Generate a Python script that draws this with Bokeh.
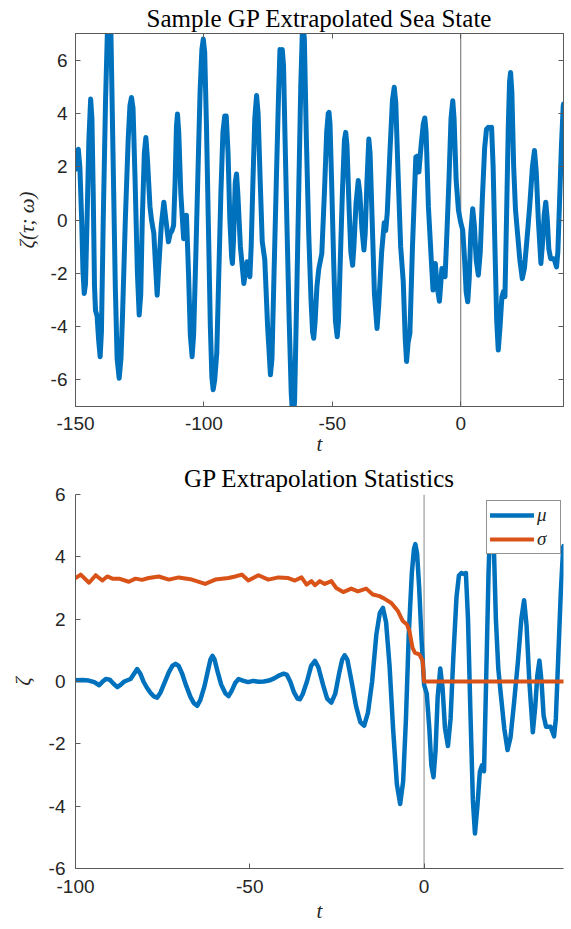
from bokeh.plotting import figure
from bokeh.layouts import column
from bokeh.models import (Range1d, FixedTicker, LinearAxis, Span, Legend, LegendItem,
                          PrintfTickFormatter)
from bokeh.embed import file_html
from bokeh.resources import INLINE

# ---------------- data ----------------
# sample path, unobserved part (t < 0)
sample_past_t = [-150.0, -149.4, -148.9, -148.3, -147.6, -147.1, -146.6, -146.1, -145.5, -144.8,
                 -144.1, -143.6, -143.1, -142.6, -142.2, -141.6, -141.0, -140.4, -139.9, -139.2,
                 -138.3, -137.6, -136.9, -136.2, -135.4, -134.5, -133.8, -133.0, -132.3, -131.7,
                 -130.6, -129.5, -128.8, -128.2, -127.6, -126.8, -125.9, -125.2, -124.6, -124.0,
                 -123.2, -122.6, -122.0, -121.0, -120.4, -119.5, -118.9, -118.2, -117.6, -116.6,
                 -115.6, -114.8, -113.8, -113.1, -112.4, -111.8, -111.2, -110.7, -110.3, -109.8,
                 -109.0, -107.9, -106.8, -106.0, -105.3, -104.6, -104.0, -103.2, -102.4, -101.5,
                 -100.8, -100.25, -99.7, -99.0, -98.2, -97.5, -96.9, -96.4, -95.8, -95.0,
                 -94.2, -93.4, -92.6, -91.9, -91.3, -90.6, -89.9, -89.2, -88.9, -88.5,
                 -87.8, -87.3, -86.8, -85.8, -84.45, -83.9, -83.2, -82.6, -82.1, -81.6,
                 -80.9, -80.2, -79.5, -78.9, -78.1, -77.3, -76.3, -75.2, -74.1, -73.5,
                 -72.7, -71.8, -71.0, -70.4, -69.9, -69.5, -69.0, -68.4, -67.6, -66.8,
                 -66.0, -65.3, -64.7, -63.9, -63.1, -62.3, -61.7, -61.4, -60.9, -60.1,
                 -59.2, -58.3, -57.7, -57.25, -56.7, -56.0, -55.3, -54.1, -53.1, -52.2,
                 -51.6, -51.3, -50.9, -50.3, -49.5, -48.8, -48.1, -47.6, -46.9, -46.1,
                 -45.3, -44.8, -44.3, -43.5, -42.8, -42.1, -41.6, -40.8, -39.9, -39.3,
                 -38.5, -37.7, -37.2, -36.5, -35.8, -35.3, -34.5, -33.6, -32.6, -32.0,
                 -30.8, -29.8, -29.2, -28.6, -27.6, -26.6, -25.9, -25.3, -24.5, -23.4,
                 -22.4, -21.6, -21.1, -20.5, -19.8, -18.8, -17.5, -16.9, -16.3, -15.5,
                 -14.6, -14.0, -13.5, -12.6, -11.4, -10.8, -9.9, -9.2, -8.3, -7.35,
                 -6.7, -6.1, -5.4, -4.6, -3.8, -3.12, -2.6, -1.8, -0.9]
sample_past_z = [1.9, 2.6, 2.65, 2.0, 0.0, -1.9, -2.76, -2.4, 0.0, 3.0,
                 4.54, 3.8, 1.0, -2.5, -3.4, -3.6, -4.5, -5.13, -4.2, 0.0,
                 4.5, 7.0, 7.6, 7.0, 2.5, -2.5, -5.2, -5.94, -5.2, -3.6,
                 0.0, 3.0, 4.3, 4.6, 4.2, 1.5, -2.0, -3.57, -2.8, 0.0,
                 2.5, 3.1, 2.3, 0.5, 0.0, -0.5, -1.6, -2.82, -1.8, -0.2,
                 0.67, 0.0, -0.82, -0.5, -0.4, -0.2, 1.5, 3.5, 3.98, 3.3,
                 1.0, -0.7, 0.18, -2.0, -4.3, -5.13, -4.3, -1.5, 1.5, 4.8,
                 6.4, 6.79, 6.3, 3.5, -0.5, -4.0, -5.9, -6.37, -6.0, -5.0,
                 -2.0, 1.0, 3.3, 3.9, 3.9, 2.5, 0.0, -1.4, -1.63, -0.8,
                 1.4, 1.73, 1.0, -1.0, -2.38, -2.0, -1.57, -1.9, -2.13, -1.0,
                 1.5, 3.8, 4.67, 4.0, 1.5, -0.8, -1.5, -4.0, -5.81, -5.2,
                 -2.0, 1.5, 4.5, 6.4, 6.3, 6.4, 5.8, 3.0, -0.5, -3.8,
                 -6.5, -7.6, -6.8, -3.0, 1.0, 5.0, 7.0, 7.3, 6.8, 3.0,
                 -0.5, -3.0, -4.2, -4.44, -3.8, -2.5, -1.85, -1.26, 1.0, 3.3,
                 4.0, 4.04, 3.6, 1.5, -1.5, -3.8, -4.38, -3.8, -1.5, 1.0,
                 3.0, 3.29, 2.8, 0.5, -1.2, -1.7, -1.0, 0.6, 1.48, 1.0,
                 -0.3, -1.13, -0.5, 1.5, 3.04, 2.5, 0.0, -2.8, -4.07, -3.3,
                 -1.2, -0.1, -0.4, 0.3, 2.5, 4.5, 4.98, 4.4, 2.0, -1.0,
                 -2.3, -4.5, -5.31, -4.6, -4.25, -1.0, 2.36, 2.4, 1.8, 2.73,
                 3.6, 3.83, 3.3, 0.5, -1.63, -2.63, -1.63, -2.5, -3.05, -1.82,
                 -1.9, -2.13, -0.5, 1.5, 3.8, 4.48, 3.8, 1.5, 0.36]

# observed sea state (t >= 0), shared by both panels
obs_t = [0.0, 0.77, 1.5, 2.1, 2.71, 3.3, 3.9, 4.65, 5.3, 6.0,
         6.85, 7.6, 8.4, 9.3, 10.0, 10.7, 11.4, 12.0, 12.6, 13.3,
         14.0, 14.6, 15.3, 16.0, 16.6, 17.2, 17.8, 18.5, 19.0, 19.4,
         19.9, 20.6, 21.3, 22.0, 23.0, 23.95, 24.8, 25.8, 26.9, 27.9,
         28.7, 29.4, 30.2, 31.2, 31.9, 32.5, 33.1, 33.7, 34.3, 35.0,
         36.3, 37.3, 37.8, 38.5, 39.2, 39.9, 40.0]
obs_z = [-0.1, -0.39, -1.5, -2.7, -3.07, -2.2, -0.5, 0.42, -0.2, -1.5,
         -2.07, -1.2, 0.8, 2.7, 3.4, 3.48, 3.45, 3.48, 2.0, -1.0,
         -3.8, -4.88, -4.0, -2.9, -2.69, -2.88, 0.0, 3.5, 5.2, 5.54,
         4.8, 2.0, 0.4, -0.39, -1.5, -2.2, -1.8, -0.7, 0.6, 2.0,
         2.61, 1.8, 0.0, -1.63, -0.8, 0.2, 0.67, 0.0, -1.1, -1.45,
         -1.45, -1.76, -1.2, 0.8, 2.8, 4.29, 4.35]

# GP mean for t < 0
mean_past_t = [-100.0, -98.0, -96.2, -94.6, -93.2, -92.2, -91.3, -90.2, -89.0, -88.0,
               -87.0, -86.0, -84.2, -83.2, -82.3, -81.4, -80.5, -79.5, -78.5, -77.5,
               -76.6, -75.6, -74.5, -73.2, -72.2, -71.3, -70.4, -69.4, -68.2, -67.0,
               -66.0, -65.1, -64.2, -63.0, -62.0, -61.3, -60.7, -60.1, -59.2, -58.2,
               -57.0, -56.1, -55.2, -54.2, -53.2, -52.0, -50.5, -49.0, -47.5, -46.0,
               -44.5, -43.0, -41.5, -40.3, -39.4, -38.4, -37.3, -36.3, -35.6, -34.8,
               -33.6, -32.4, -31.3, -30.3, -29.0, -27.8, -26.6, -25.5, -24.3, -23.5,
               -22.8, -22.0, -20.8, -19.5, -18.3, -17.2, -16.1, -14.9, -13.7, -12.7,
               -11.8, -10.9, -9.9, -8.9, -7.8, -6.86, -6.0, -5.2, -4.4, -3.5,
               -2.9, -2.5, -2.0, -1.4, -0.7]
mean_past_z = [0.04, 0.05, 0.03, -0.02, -0.12, 0.0, 0.08, 0.06, -0.08, -0.18,
               -0.1, 0.0, 0.08, 0.25, 0.4, 0.25, 0.0, -0.2, -0.36, -0.48,
               -0.52, -0.35, -0.05, 0.3, 0.5, 0.57, 0.5, 0.25, -0.15, -0.5,
               -0.7, -0.78, -0.6, -0.15, 0.35, 0.7, 0.82, 0.7, 0.3, -0.1,
               -0.38, -0.47, -0.3, -0.05, 0.08, 0.03, -0.02, 0.02, -0.01, 0.0,
               0.03, 0.1, 0.2, 0.25, 0.22, 0.0, -0.35, -0.55, -0.57, -0.4,
               0.0, 0.5, 0.66, 0.45, -0.1, -0.55, -0.68, -0.4, 0.3, 0.7,
               0.84, 0.7, 0.0, -0.8, -1.3, -1.42, -1.0, 0.0, 1.5, 2.2,
               2.36, 1.9, 0.5, -1.5, -3.3, -3.93, -3.2, -1.2, 1.5, 3.5,
               4.25, 4.41, 4.1, 3.0, 1.3]

# GP standard deviation
sigma_t = [-100.0, -98.5, -96.1, -94.2, -92.3, -90.9, -89.4, -87.5, -84.7, -82.8,
           -80.9, -79.0, -76.1, -73.2, -70.4, -66.6, -62.8, -59.9, -56.1, -54.2,
           -52.3, -50.4, -47.5, -44.7, -41.8, -38.96, -37.05, -35.15, -33.7, -32.3,
           -31.3, -29.9, -28.5, -26.6, -25.2, -23.2, -20.9, -19.0, -16.6, -14.7,
           -12.8, -11.4, -9.4, -7.5, -6.1, -4.9, -4.2, -3.3, -2.6, -1.35,
           -0.4, 0.0, 40.0]
sigma_z = [3.32, 3.43, 3.17, 3.41, 3.24, 3.37, 3.30, 3.30, 3.20, 3.30,
           3.26, 3.32, 3.37, 3.27, 3.34, 3.27, 3.13, 3.27, 3.32, 3.37,
           3.43, 3.24, 3.41, 3.27, 3.34, 3.32, 3.24, 3.34, 3.11, 3.22,
           3.09, 3.22, 3.13, 3.22, 3.0, 2.87, 2.98, 2.89, 2.98, 2.79,
           2.74, 2.66, 2.52, 2.26, 1.94, 1.83, 1.62, 1.08, 0.92, 0.87,
           0.66, 0.0, 0.0]

top_xticks = [-150, -100, -50, 0]
top_yticks = [-6, -4, -2, 0, 2, 4, 6]
bot_xticks = [-100, -50, 0]
bot_yticks = [-6, -4, -2, 0, 2, 4, 6]

BLUE = "#0072BD"
ORANGE = "#D95319"
AX = "#262626"
AXLINE = "#5a5a5a"
TICKFONT = "Liberation Sans"
SERIF = "Liberation Serif"


def style_axis(ax, ticks, label_standoff, show_labels=True):
    ax.ticker = FixedTicker(ticks=ticks)
    ax.formatter = PrintfTickFormatter(format="%d")
    ax.axis_line_color = AXLINE
    ax.axis_line_width = 1
    ax.major_tick_line_color = AXLINE
    ax.major_tick_line_width = 1
    ax.major_tick_in = 5
    ax.major_tick_out = 0
    ax.minor_tick_line_color = None
    if show_labels:
        ax.major_label_text_font = TICKFONT
        ax.major_label_text_font_size = "19px"
        ax.major_label_text_color = AX
        ax.major_label_standoff = label_standoff
    else:
        ax.major_label_text_font_size = "1px"
        ax.major_label_text_color = None
        ax.major_label_standoff = 0
    ax.axis_label_text_font = SERIF
    ax.axis_label_text_font_style = "italic"
    ax.axis_label_text_font_size = "21px"
    ax.axis_label_text_color = AX


def style_title(p, text, standoff):
    p.title.text = text
    p.title.text_font = SERIF
    p.title.text_font_size = "25px"
    p.title.text_font_style = "normal"
    p.title.text_color = "#000000"
    p.title.align = "center"
    p.title.standoff = standoff


# ---------------- top panel ----------------
p1 = figure(width=571, height=460, x_range=Range1d(-150, 40), y_range=Range1d(-7, 7),
            output_backend="svg", toolbar_location=None,
            min_border_left=75, min_border_right=8, min_border_top=33, min_border_bottom=54)
style_title(p1, "Sample GP Extrapolated Sea State", 4)
p1.xgrid.visible = False
p1.ygrid.visible = False
p1.outline_line_color = AXLINE
p1.background_fill_color = "white"
p1.border_fill_color = "white"

style_axis(p1.xaxis[0], top_xticks, 10)
style_axis(p1.yaxis[0], top_yticks, 8)
p1.xaxis[0].axis_label = "t"
p1.xaxis[0].axis_label_standoff = -1
p1.yaxis[0].axis_label = "ζ(τ; ω)"
p1.yaxis[0].axis_label_standoff = 9

ax_top = LinearAxis()
style_axis(ax_top, top_xticks, 0, show_labels=False)
p1.add_layout(ax_top, "above")
ax_right = LinearAxis()
style_axis(ax_right, top_yticks, 0, show_labels=False)
p1.add_layout(ax_right, "right")

p1.add_layout(Span(location=0, dimension="height", line_color="#6a6a6a", line_width=1, level="underlay"))
p1.line(sample_past_t + obs_t, sample_past_z + obs_z, line_color=BLUE, line_width=5,
        line_join="round", line_cap="round")

# ---------------- bottom panel ----------------
p2 = figure(width=571, height=469, x_range=Range1d(-100, 40), y_range=Range1d(-6, 6),
            output_backend="svg", toolbar_location=None,
            min_border_left=73, min_border_right=8, min_border_top=33, min_border_bottom=61)
style_title(p2, "GP Extrapolation Statistics", 5)
p2.xgrid.visible = False
p2.ygrid.visible = False
p2.outline_line_color = None
p2.background_fill_color = "white"
p2.border_fill_color = "white"

style_axis(p2.xaxis[0], bot_xticks, 11)
style_axis(p2.yaxis[0], bot_yticks, 10)
p2.xaxis[0].axis_label = "t"
p2.xaxis[0].axis_label_standoff = 3
p2.yaxis[0].axis_label = "ζ"
p2.yaxis[0].axis_label_standoff = 11

p2.add_layout(Span(location=0, dimension="height", line_color="#8a8a8a", line_width=1, level="underlay"))
r_mu = p2.line(mean_past_t + obs_t, mean_past_z + obs_z, line_color=BLUE, line_width=4.5,
               line_join="round", line_cap="round")
r_sig = p2.line(sigma_t, sigma_z, line_color=ORANGE, line_width=4,
                line_join="round", line_cap="round")

legend = Legend(items=[LegendItem(label="μ", renderers=[r_mu]),
                       LegendItem(label="σ", renderers=[r_sig])],
                location=(411, 314))
legend.label_text_font = SERIF
legend.label_text_font_style = "italic"
legend.label_text_font_size = "19px"
legend.label_text_color = AX
legend.glyph_width = 44
legend.glyph_height = 20
legend.label_height = 20
legend.label_standoff = 3
legend.spacing = 2
legend.padding = 3
legend.margin = 0
legend.border_line_color = AX
legend.border_line_width = 1
legend.background_fill_color = "white"
legend.background_fill_alpha = 1.0
p2.add_layout(legend, "center")

layout = column(p1, p2, spacing=0)
open("out.html", "w").write(file_html(layout, INLINE))
